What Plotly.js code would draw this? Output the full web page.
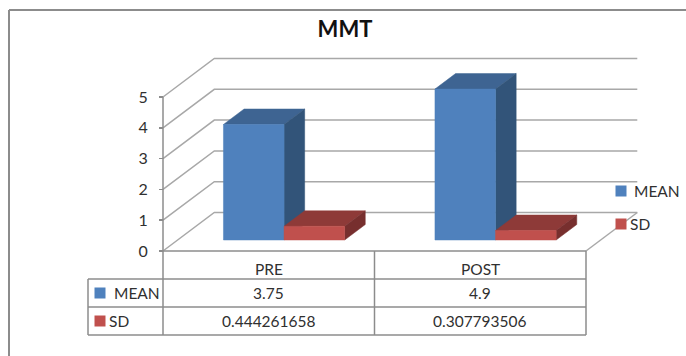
<!DOCTYPE html>
<html>
<head>
<meta charset="utf-8">
<script src="https://cdn.plot.ly/plotly-3.0.1.min.js"></script>
<style>html,body{margin:0;padding:0;background:#fff}#chart{width:686px;height:356px}</style>
</head>
<body>
<div id="chart"></div>
<script>
// Chart values
const categories = ['PRE', 'POST'];
const meanValues = [3.75, 4.9];
const sdValues = [0.444261658, 0.307793506];
const valueTicks = [0, 1, 2, 3, 4, 5];
const seriesNames = ['MEAN', 'SD'];

// Canvas scale: category and value units per pixel
const W = 686, H = 356;
const pxPerCat = 211.5, pxPerVal = 30.8;
const originX = 163, originY = 251;
const xRange = [-originX / pxPerCat, (W - originX) / pxPerCat];
const yRange = [(originY - H) / pxPerVal, originY / pxPerVal];
const xAt = px => (px - originX) / pxPerCat;
const yAt = px => (originY - px) / pxPerVal;

// Oblique projection: depth 0 is the front of the floor, depth 1 the back wall
const depthX = 0.2425, depthY = 1.25;
const proj = (c, v, d) => [c + d * depthX, v + d * depthY];

// Column placement inside a category slot and along the depth
const slotGap = 0.2165, barWidth = 0.2865;
const depthNear = 0.286, depthFar = 0.688;

const gridColor = '#a8a8a8', frameColor = '#8c8c8c', textColor = '#303030';
const palette = {
  MEAN: {front: '#4f81bd', top: '#3e6492', side: '#325479'},
  SD:   {front: '#c0504d', top: '#8e3a38', side: '#772f2e'}
};

const traces = [];

function line(points, color, width) {
  traces.push({
    x: points.map(p => p[0]), y: points.map(p => p[1]),
    type: 'scatter', mode: 'lines', hoverinfo: 'skip', showlegend: false,
    line: {color: color, width: width}
  });
}
function face(points, color) {
  const closed = points.concat([points[0]]);
  traces.push({
    x: closed.map(p => p[0]), y: closed.map(p => p[1]),
    type: 'scatter', mode: 'lines', fill: 'toself', fillcolor: color,
    hoverinfo: 'skip', showlegend: false,
    line: {color: color, width: 0.5}
  });
}
function column(x0, x1, value, colors) {
  face([proj(x0, value, depthNear), proj(x1, value, depthNear), proj(x1, value, depthFar), proj(x0, value, depthFar)], colors.top);
  face([proj(x1, 0, depthNear), proj(x1, 0, depthFar), proj(x1, value, depthFar), proj(x1, value, depthNear)], colors.side);
  face([proj(x0, 0, depthNear), proj(x1, 0, depthNear), proj(x1, value, depthNear), proj(x0, value, depthNear)], colors.front);
}

// Walls and floor
valueTicks.forEach(v => {
  line([proj(0, v, 0), proj(0, v, 1), proj(categories.length, v, 1)], gridColor, 1.5);
});
line([[0, 0], [0, valueTicks[valueTicks.length - 1]]], frameColor, 1.5);
line([proj(categories.length, 0, 0), proj(categories.length, 0, 1)], gridColor, 1.5);

// Columns, back to front within each category
categories.forEach((_, i) => {
  const start = i + slotGap;
  column(start, start + barWidth, meanValues[i], palette.MEAN);
  column(start + barWidth, start + 2 * barWidth, sdValues[i], palette.SD);
});

// Data table beneath the floor
const rowH = 28 / pxPerVal;
const tableLeft = xAt(88);
[0, 1, 2, 3].forEach(r => {
  const left = r === 0 ? 0 : tableLeft;
  line([[left, -r * rowH], [categories.length, -r * rowH]], frameColor, 1.5);
});
line([[tableLeft, -rowH], [tableLeft, -3 * rowH]], frameColor, 1.5);
[0, 1, 2].forEach(c => line([[c, 0], [c, -3 * rowH]], frameColor, 1.5));

// Series keys: inside the table and beside the plot
const keyX = [xAt(100), xAt(100), xAt(621), xAt(621)];
const keyY = [-1.5 * rowH, -2.5 * rowH, yAt(191), yAt(224)];
traces.push({
  x: keyX, y: keyY,
  type: 'scatter', mode: 'markers', hoverinfo: 'skip', showlegend: false,
  marker: {symbol: 'square', size: 11, color: [palette.MEAN.front, palette.SD.front, palette.MEAN.front, palette.SD.front]}
});

// Table and key text
const cell = (x, y, text, anchor) => ({
  x: x, y: y, xref: 'x', yref: 'y', text: text, showarrow: false,
  xanchor: anchor || 'center', yanchor: 'middle',
  font: {family: 'Lato, sans-serif', size: 15.5, color: textColor}
});
const annotations = [];
categories.forEach((name, i) => {
  annotations.push(cell(i + 0.5, yAt(269), name));
  annotations.push(cell(i + 0.5, -1.5 * rowH, String(meanValues[i])));
  annotations.push(cell(i + 0.5, -2.5 * rowH, String(sdValues[i])));
});
annotations.push(cell(xAt(112), -1.5 * rowH, seriesNames[0], 'left'));
annotations.push(cell(xAt(107), -2.5 * rowH, seriesNames[1], 'left'));
annotations.push(cell(xAt(632), yAt(191), seriesNames[0], 'left'));
annotations.push(cell(xAt(628), yAt(224), seriesNames[1], 'left'));

// Outer chart frame, open on the right and at the bottom
const frameLine = (x0, y0, x1, y1) => ({
  type: 'line', xref: 'paper', yref: 'paper', layer: 'below',
  x0: x0 / W, x1: x1 / W, y0: 1 - y0 / H, y1: 1 - y1 / H,
  line: {color: frameColor, width: 2}
});

const layout = {
  width: W, height: H,
  margin: {l: 0, r: 0, t: 0, b: 0, autoexpand: false},
  paper_bgcolor: '#ffffff', plot_bgcolor: 'rgba(0,0,0,0)',
  font: {family: 'Lato, sans-serif', color: textColor},
  title: {
    text: '<b>MMT</b>', x: 345 / W, xanchor: 'center', y: 1 - 29 / H, yanchor: 'middle',
    font: {family: 'Lato, sans-serif', size: 22, color: '#111111'}
  },
  xaxis: {range: xRange, visible: false, fixedrange: true},
  yaxis: {
    range: yRange, anchor: 'free', position: originX / W, side: 'left',
    tickmode: 'array', tickvals: valueTicks, ticktext: valueTicks.map(String),
    ticks: 'outside', ticklen: 4, tickwidth: 1.5, tickcolor: frameColor,
    ticklabelstandoff: 8,
    showgrid: false, zeroline: false, showline: false, fixedrange: true,
    tickfont: {family: 'Lato, sans-serif', size: 16, color: textColor}
  },
  showlegend: false,
  annotations: annotations,
  shapes: [frameLine(9, H, 9, 10), frameLine(9, 10, W, 10)]
};

Plotly.newPlot('chart', traces, layout, {displayModeBar: false, staticPlot: true});
</script>
</body>
</html>
